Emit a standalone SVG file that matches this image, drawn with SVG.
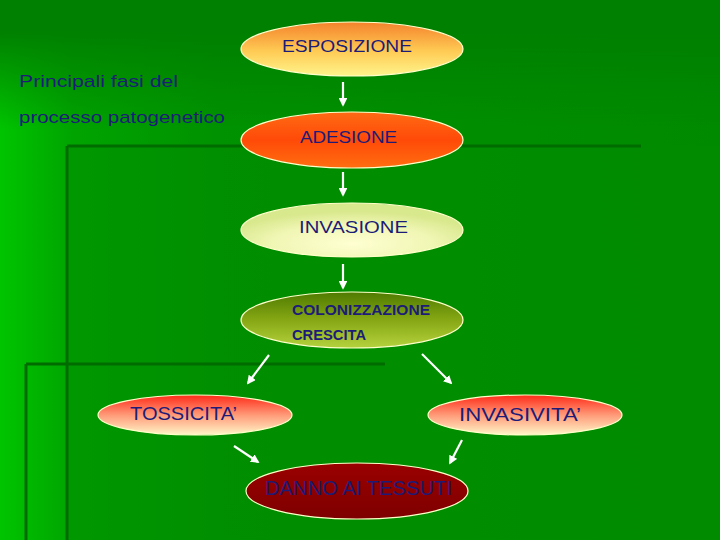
<svg xmlns="http://www.w3.org/2000/svg" width="720" height="540" viewBox="0 0 720 540">
<defs>
<style>
.t{font-family:"Liberation Sans","DejaVu Sans",sans-serif;fill:#1c1c78;}
.n{stroke:#ffffc8;stroke-width:1.2;}
.c{stroke:#ffffff;stroke-width:2.2;fill:none;marker-end:url(#ah);}
.bl{stroke:#006c00;stroke-width:3;fill:none;}
</style>
<marker id="ah" viewBox="0 0 10 10" refX="8" refY="5" markerWidth="4" markerHeight="4" orient="auto" markerUnits="strokeWidth">
<path d="M0,0 L10,5 L0,10 z" fill="#ffffff"/>
</marker>
<linearGradient id="bgH" x1="0" y1="0" x2="720" y2="0" gradientUnits="userSpaceOnUse">
<stop offset="0" stop-color="#00c400"/>
<stop offset="0.1" stop-color="#00a400"/>
<stop offset="0.3" stop-color="#009200"/>
<stop offset="1" stop-color="#008a00"/>
</linearGradient>
<linearGradient id="fadeV" x1="0" y1="30" x2="0" y2="130" gradientUnits="userSpaceOnUse">
<stop offset="0" stop-color="#000"/>
<stop offset="1" stop-color="#fff"/>
</linearGradient>
<mask id="m"><rect x="0" y="0" width="720" height="540" fill="url(#fadeV)"/></mask>
<linearGradient id="gEsp" x1="0" y1="0" x2="0" y2="1">
<stop offset="0" stop-color="#f4822c"/>
<stop offset="0.55" stop-color="#ffcc55"/>
<stop offset="1" stop-color="#fff48c"/>
</linearGradient>
<linearGradient id="gAde" x1="0" y1="0" x2="0" y2="1">
<stop offset="0" stop-color="#ff6a14"/>
<stop offset="0.5" stop-color="#ff4a08"/>
<stop offset="1" stop-color="#ff6e10"/>
</linearGradient>
<radialGradient id="gInv" cx="0.5" cy="0.75" r="0.6">
<stop offset="0" stop-color="#ffffd2"/>
<stop offset="0.6" stop-color="#f0f6b4"/>
<stop offset="1" stop-color="#d8e88c"/>
</radialGradient>
<linearGradient id="gCol" x1="0" y1="0" x2="0" y2="1">
<stop offset="0" stop-color="#4e7a00"/>
<stop offset="0.5" stop-color="#86a814"/>
<stop offset="1" stop-color="#b4d23c"/>
</linearGradient>
<linearGradient id="gTox" x1="0" y1="0" x2="0" y2="1">
<stop offset="0" stop-color="#ff2a18"/>
<stop offset="0.5" stop-color="#ff9a78"/>
<stop offset="1" stop-color="#fff6c8"/>
</linearGradient>
<linearGradient id="gDan" x1="0" y1="0" x2="0" y2="1">
<stop offset="0" stop-color="#9a0000"/>
<stop offset="1" stop-color="#7e0000"/>
</linearGradient>
</defs>

<g id="background">
<rect x="0" y="0" width="720" height="540" fill="#008000"/>
<rect x="0" y="0" width="720" height="540" fill="url(#bgH)" mask="url(#m)"/>
<rect x="67" y="146" width="653" height="394" fill="#008c00" opacity="0.5"/>
<path class="bl" d="M67,146 H641 M67,146 V540 M26,364 H385 M26,364 V540"/>
</g>

<g id="title">
<text class="t" x="19" y="87" font-size="17" textLength="159" lengthAdjust="spacingAndGlyphs">Principali fasi del</text>
<text class="t" x="19" y="123" font-size="17" textLength="206" lengthAdjust="spacingAndGlyphs">processo patogenetico</text>
</g>

<g id="connectors">
<line class="c" x1="343" y1="82" x2="343" y2="105"/>
<line class="c" x1="343" y1="172" x2="343" y2="195"/>
<line class="c" x1="343" y1="264" x2="343" y2="288"/>
<line class="c" x1="269" y1="355" x2="248" y2="383"/>
<line class="c" x1="422" y1="354" x2="451" y2="383"/>
<line class="c" x1="234" y1="446" x2="258" y2="462"/>
<line class="c" x1="462" y1="440" x2="450" y2="463"/>
</g>

<g id="esposizione">
<ellipse class="n" cx="352" cy="49" rx="111" ry="27" fill="url(#gEsp)"/>
<text class="t" x="282" y="52" font-size="16" textLength="130" lengthAdjust="spacingAndGlyphs">ESPOSIZIONE</text>
</g>

<g id="adesione">
<ellipse class="n" cx="352" cy="140" rx="111" ry="28" fill="url(#gAde)"/>
<text class="t" x="300" y="143" font-size="17" textLength="97" lengthAdjust="spacingAndGlyphs">ADESIONE</text>
</g>

<g id="invasione">
<ellipse class="n" cx="352" cy="230" rx="111" ry="27" fill="url(#gInv)"/>
<text class="t" x="299" y="233" font-size="17" textLength="109" lengthAdjust="spacingAndGlyphs">INVASIONE</text>
</g>

<g id="colonizzazione">
<ellipse class="n" cx="352" cy="320" rx="111" ry="28" fill="url(#gCol)"/>
<text class="t" x="292" y="315" font-size="14" font-weight="bold" textLength="138" lengthAdjust="spacingAndGlyphs">COLONIZZAZIONE</text>
<text class="t" x="292" y="340" font-size="14" font-weight="bold" textLength="74" lengthAdjust="spacingAndGlyphs">CRESCITA</text>
</g>

<g id="tossicita">
<ellipse class="n" cx="195" cy="415" rx="97" ry="20" fill="url(#gTox)"/>
<text class="t" x="130" y="420" font-size="18" textLength="107" lengthAdjust="spacingAndGlyphs">TOSSICITA’</text>
</g>

<g id="invasivita">
<ellipse class="n" cx="525" cy="415" rx="97" ry="20" fill="url(#gTox)"/>
<text class="t" x="459" y="421" font-size="18" textLength="122" lengthAdjust="spacingAndGlyphs">INVASIVITA’</text>
</g>

<g id="danno">
<ellipse class="n" cx="357" cy="491" rx="111" ry="28" fill="url(#gDan)"/>
<text class="t" x="265" y="495" font-size="20" textLength="187" lengthAdjust="spacingAndGlyphs">DANNO AI TESSUTI</text>
</g>
</svg>
